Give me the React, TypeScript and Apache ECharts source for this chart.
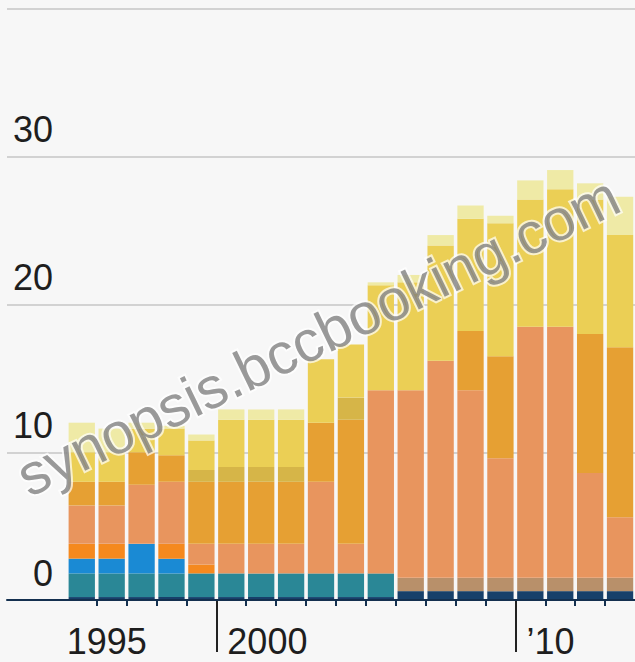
import React, { useEffect, useRef } from "react";
import * as echarts from "echarts";

// Categories: two empty leading slots (1993, 1994) so the grid starts at the left edge
const years = ["1993","1994","1995","1996","1997","1998","1999","2000","2001","2002","2003","2004","2005","2006","2007","2008","2009","2010","2011","2012","2013"];
// Boundaries between bars, for ticks and labels
const bounds = ["1993","1994","1995","1996","1997","1998","1999","2000","2001","2002","2003","2004","2005","2006","2007","2008","2009","2010","2011","2012","2013","2014"];
const yTicks = [0, 10, 20, 30, 40];

// Layers, bottom to top, values for 1995..2013
const navy    = [0.2,0.2,0.2,0.2,0.2,0.2,0.2,0.2,0.2,0.2,0.2,0.6,0.6,0.6,0.6,0.6,0.6,0.6,0.6];
const teal    = [1.6,1.6,1.6,1.6,1.6,1.6,1.6,1.6,1.6,1.6,1.6,0,0,0,0,0,0,0,0];
const blue    = [1.0,1.0,2.0,1.0,0,0,0,0,0,0,0,0,0,0,0,0,0,0,0];
const tan     = [0,0,0,0,0,0,0,0,0,0,0,0.9,0.9,0.9,0.9,0.9,0.9,0.9,0.9];
const orange  = [1.0,1.0,0,1.0,0.6,0,0,0,0,0,0,0,0,0,0,0,0,0,0];
const salmon  = [2.6,2.6,4.0,4.2,1.4,2.0,2.0,2.0,6.2,2.0,12.4,12.7,14.7,12.7,8.1,17.0,17.0,7.1,4.1];
const amber   = [1.6,1.6,2.2,1.8,4.2,4.2,4.2,4.2,4.0,8.4,0,0,0,4.0,6.9,0,0,9.4,11.5];
const mustard = [0,0,0,0,0.8,1.0,1.0,1.0,0,1.5,0,0,0,0,0,0,0,0,0];
const yellow  = [2.0,2.0,1.6,1.8,2.0,3.2,3.2,3.2,4.3,3.6,7.1,7.3,7.8,7.6,9.0,8.6,9.3,9.1,7.6];
const pale    = [2.0,1.6,0.4,0.2,0.4,0.7,0.7,0.7,0,0,0.2,0.5,0.7,0.9,0.5,1.3,1.3,1.1,2.6];

const layers: [string, number[], string][] = [
  ["navy", navy, "#17406a"],
  ["teal", teal, "#2a8796"],
  ["blue", blue, "#1a8ad4"],
  ["tan", tan, "#b8906a"],
  ["orange", orange, "#f5891e"],
  ["salmon", salmon, "#e8955e"],
  ["amber", amber, "#e6a033"],
  ["mustard", mustard, "#d6b548"],
  ["yellow", yellow, "#ebcf55"],
  ["pale", pale, "#efeaa6"],
];

const FONT = '"Liberation Sans", Arial, sans-serif';

export default function App() {
  const ref = useRef<HTMLDivElement>(null);
  useEffect(() => {
    document.body.style.margin = "0";
    document.body.style.background = "#f7f7f7";
    const chart = echarts.init(ref.current!, null, { renderer: "svg" });
    chart.setOption({
      animation: false,
      backgroundColor: "#f7f7f7",
      grid: { left: 7, right: -2, top: 0, bottom: 62, containLabel: false },
      xAxis: [
        {
          type: "category",
          data: years,
          position: "bottom",
          boundaryGap: true,
          axisLine: { show: true, lineStyle: { color: "#14304f", width: 2 } },
          axisTick: { show: false },
          axisLabel: { show: false },
          z: 5,
        },
        {
          type: "category",
          data: bounds,
          position: "bottom",
          boundaryGap: false,
          axisLine: { show: false },
          axisTick: {
            show: true,
            interval: (_i: number, v: string) => +v >= 1996 && +v <= 2013,
            length: 6,
            lineStyle: { color: "#14304f", width: 2 },
          },
          axisLabel: { show: false },
        },
        {
          type: "category",
          data: bounds,
          position: "bottom",
          boundaryGap: false,
          axisLine: { show: false },
          axisTick: {
            show: true,
            interval: (_i: number, v: string) => v === "2000" || v === "2010",
            length: 52,
            lineStyle: { color: "#222222", width: 2 },
          },
          axisLabel: {
            show: true,
            interval: (_i: number, v: string) => v === "1995" || v === "2000" || v === "2010",
            formatter: (v: string) =>
              v === "1995" ? "{a|1995}" : v === "2000" ? "{b|2000}" : "{b|\u201910}",
            align: "left",
            verticalAlign: "top",
            margin: 23,
            rich: {
              a: { fontSize: 36, lineHeight: 36, fontFamily: FONT, color: "#1e1e1e" },
              b: { fontSize: 36, lineHeight: 36, fontFamily: FONT, color: "#1e1e1e", padding: [0, 0, 0, 11] },
            },
          },
        },
      ],
      yAxis: {
        type: "value",
        min: yTicks[0],
        max: yTicks[yTicks.length - 1],
        interval: 10,
        axisLine: { show: false },
        axisTick: { show: false },
        splitLine: { show: true, lineStyle: { color: "#d2d2d2", width: 2 } },
        axisLabel: {
          inside: true,
          align: "right",
          margin: 46,
          verticalAlign: "bottom",
          padding: [0, 0, 9, 0],
          fontSize: 36,
          lineHeight: 36,
          fontFamily: FONT,
          color: "#1e1e1e",
          formatter: (v: number) => (v === 40 ? "" : String(v)),
        },
        z: 1,
      },
      series: layers.map(([name, vals, color]) => ({
        name,
        type: "bar",
        stack: "total",
        xAxisIndex: 0,
        barCategoryGap: "12%",
        data: [null, null, ...vals],
        itemStyle: { color },
        z: 3,
      })),
      graphic: [
        {
          type: "line",
          shape: { x1: 16, y1: 9, x2: 635, y2: 9 },
          style: { stroke: "#dadada", lineWidth: 1 },
        },
        {
          type: "text",
          x: 318,
          y: 336,
          rotation: 0.45,
          z: 100,
          style: {
            text: "synopsis.bccbooking.com",
            font: '58px ' + FONT,
            fill: "rgba(120,120,120,0.75)",
            stroke: "rgba(255,255,255,0.7)",
            lineWidth: 4,
            align: "center",
            verticalAlign: "middle",
            textAlign: "center",
            textVerticalAlign: "middle",
          },
        },
      ],
    });
    return () => chart.dispose();
  }, []);
  return <div ref={ref} style={{ width: 635, height: 662 }} />;
}
